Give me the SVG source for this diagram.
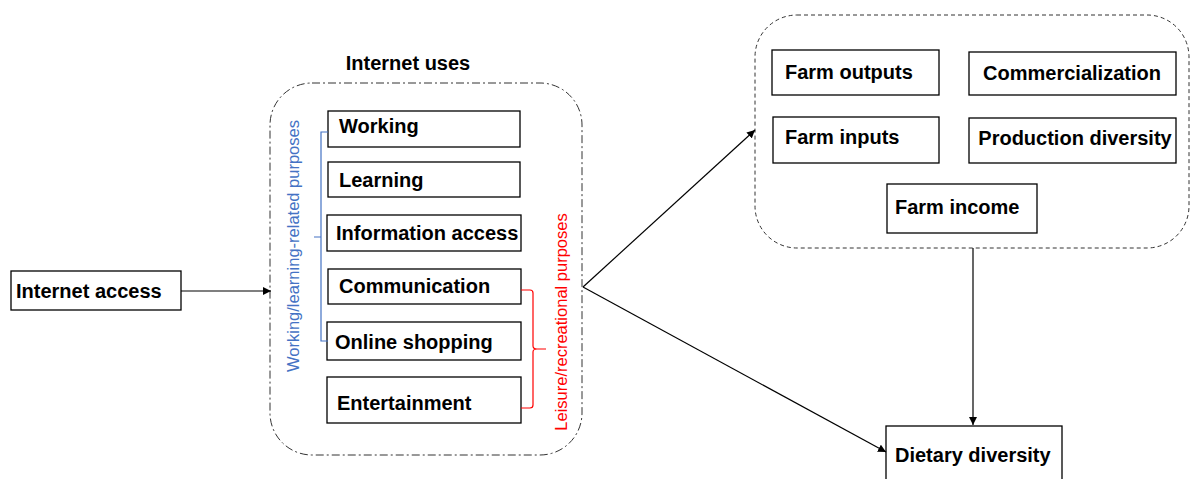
<svg xmlns="http://www.w3.org/2000/svg" width="1190" height="479" viewBox="0 0 1190 479">
<defs>
<style>
.box{fill:#fff;stroke:#000;stroke-width:1.3}
.t{font-family:"Liberation Sans",Arial,sans-serif;font-weight:bold;font-size:20px;fill:#000}
.conn{stroke:#000;stroke-width:1.2;fill:none}
.side{font-family:"Liberation Sans",Arial,sans-serif;font-size:16.5px}
</style>
<marker id="arr" viewBox="0 0 10 10" refX="10" refY="5" markerWidth="8" markerHeight="8" markerUnits="userSpaceOnUse" orient="auto"><path d="M0,0 L10,5 L0,10 z" fill="#000"/></marker>
</defs>
<rect width="1190" height="479" fill="#fff"/>
<g id="internet-uses-group">
<text class="t" x="408" y="70" text-anchor="middle">Internet uses</text>
<rect x="270" y="83" width="312" height="372" rx="42" fill="none" stroke="#333" stroke-width="1" stroke-dasharray="8,3,2,3"/>
</g>
<g id="farm-group">
<rect x="755" y="15" width="434" height="233" rx="42" fill="none" stroke="#333" stroke-width="1" stroke-dasharray="4,3"/>
</g>
<g id="internet-access"><rect class="box" x="11" y="271" width="170" height="39"/><text class="t" x="16" y="298">Internet access</text></g>
<g id="working"><rect class="box" x="328" y="111" width="192" height="36"/><text class="t" x="339" y="133">Working</text></g>
<g id="learning"><rect class="box" x="328" y="162" width="192" height="35"/><text class="t" x="339" y="187">Learning</text></g>
<g id="information-access"><rect class="box" x="327" y="215" width="194" height="36"/><text class="t" x="336" y="240">Information access</text></g>
<g id="communication"><rect class="box" x="328" y="269" width="193" height="35"/><text class="t" x="339" y="293">Communication</text></g>
<g id="online-shopping"><rect class="box" x="327" y="322" width="194" height="38"/><text class="t" x="335" y="349">Online shopping</text></g>
<g id="entertainment"><rect class="box" x="327" y="377" width="194" height="46"/><text class="t" x="337" y="410">Entertainment</text></g>
<g id="working-bracket">
<path d="M328,132 H321 V341 H328 M321,237 H314" fill="none" stroke="#4472C4" stroke-width="1.2"/>
<text class="side" transform="translate(299,246) rotate(-90)" text-anchor="middle" fill="#4472C4">Working/learning-related purposes</text>
</g>
<g id="leisure-bracket">
<path d="M521,290 H530 Q533,290 533,293 V346 Q533,349 537,349 H546 M537,349 Q533,349 533,352 V405 Q533,408 530,408 H521" fill="none" stroke="#FF0000" stroke-width="1.2"/>
<text class="side" transform="translate(567,322) rotate(-90)" text-anchor="middle" fill="#FF0000">Leisure/recreational purposes</text>
</g>
<g id="farm-outputs"><rect class="box" x="772" y="50" width="167" height="45"/><text class="t" x="785" y="79">Farm outputs</text></g>
<g id="commercialization"><rect class="box" x="969" y="52" width="207" height="43"/><text class="t" x="1072" y="80" text-anchor="middle">Commercialization</text></g>
<g id="farm-inputs"><rect class="box" x="773" y="117" width="166" height="46"/><text class="t" x="785" y="144">Farm inputs</text></g>
<g id="production-diversity"><rect class="box" x="969" y="118" width="207" height="45"/><text class="t" x="1075" y="145" text-anchor="middle">Production diversity</text></g>
<g id="farm-income"><rect class="box" x="887" y="184" width="150" height="49"/><text class="t" x="895" y="214">Farm income</text></g>
<g id="dietary-diversity"><rect class="box" x="886" y="426" width="176" height="60"/><text class="t" x="895" y="462">Dietary diversity</text></g>
<g id="connectors">
<line class="conn" x1="181" y1="291" x2="271" y2="291" marker-end="url(#arr)"/>
<line class="conn" x1="583" y1="287" x2="755" y2="130" marker-end="url(#arr)"/>
<line class="conn" x1="583" y1="287" x2="886" y2="452" marker-end="url(#arr)"/>
<line class="conn" x1="973" y1="248" x2="973" y2="425" marker-end="url(#arr)"/>
</g>
</svg>
